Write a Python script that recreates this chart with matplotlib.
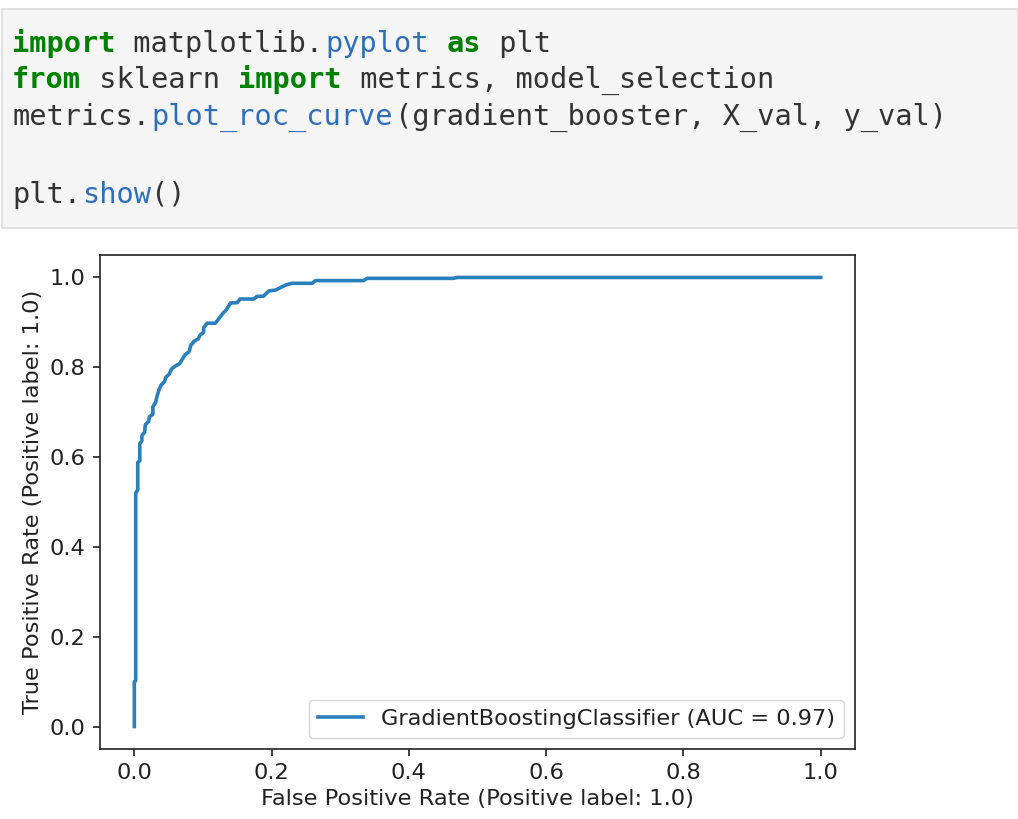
import matplotlib
matplotlib.use("Agg")
import matplotlib.pyplot as plt
from matplotlib.patches import Rectangle

# ---- data ----
fpr = [0.000, 0.000, 0.002, 0.002, 0.005, 0.005, 0.008, 0.008, 0.011, 0.011,
       0.015, 0.016, 0.021, 0.022, 0.027, 0.027, 0.031, 0.033, 0.036, 0.039,
       0.044, 0.046, 0.051, 0.054, 0.060, 0.066, 0.070, 0.074, 0.080, 0.082,
       0.087, 0.093, 0.096, 0.101, 0.101, 0.106, 0.118, 0.124, 0.129, 0.134,
       0.138, 0.140, 0.150, 0.154, 0.174, 0.179, 0.188, 0.196, 0.206, 0.215,
       0.222, 0.230, 0.259, 0.264, 0.334, 0.339, 0.465, 0.470, 1.000]
tpr = [0.000, 0.100, 0.102, 0.520, 0.527, 0.588, 0.592, 0.630, 0.636, 0.648,
       0.655, 0.672, 0.680, 0.690, 0.695, 0.712, 0.722, 0.735, 0.750, 0.760,
       0.768, 0.778, 0.785, 0.796, 0.803, 0.808, 0.818, 0.828, 0.835, 0.848,
       0.858, 0.863, 0.872, 0.878, 0.888, 0.898, 0.898, 0.910, 0.920, 0.928,
       0.938, 0.943, 0.944, 0.952, 0.952, 0.958, 0.958, 0.970, 0.972, 0.979,
       0.984, 0.987, 0.987, 0.993, 0.993, 0.998, 0.998, 1.000, 1.000]
model_name = "GradientBoostingClassifier"
auc_value = 0.97
ticks = [0.0, 0.2, 0.4, 0.6, 0.8, 1.0]

# code cell text, as (token, style) pieces per line
code_lines = [
    [("import", "kw"), (" matplotlib.", "n"), ("pyplot", "p"), (" ", "n"), ("as", "kw"), (" plt", "n")],
    [("from", "kw"), (" sklearn ", "n"), ("import", "kw"), (" metrics, model_selection", "n")],
    [("metrics.", "n"), ("plot_roc_curve", "p"), ("(gradient_booster, X_val, y_val)", "n")],
    [],
    [("plt.", "n"), ("show", "p"), ("()", "n")],
]

W, H = 1018, 819
fig = plt.figure(figsize=(W / 100, H / 100), dpi=100)
fig.patch.set_facecolor("white")

# ---- code cell ----
fig.patches.append(Rectangle((2 / W, 1 - 228 / H), 1016 / W, 219 / H,
                             transform=fig.transFigure, facecolor="#f5f5f5",
                             edgecolor="#dcdcdc", linewidth=1.2, zorder=0))
styles = {
    "kw": dict(color="#008000", fontweight="bold"),
    "n": dict(color="#333333"),
    "p": dict(color="#2f6fba"),
}
char_w = 17.4
line_y = [44, 80, 117, 153, 195]
for ln, y in zip(code_lines, line_y):
    col = 0
    for tok, st in ln:
        fig.text((12 + col * char_w) / W, 1 - y / H, tok, family="DejaVu Sans Mono",
                 fontsize=20.6, va="center", ha="left", **styles[st])
        col += len(tok)

# ---- ROC axes ----
FS = 16.2
ax = fig.add_axes([100 / W, 1 - 749 / H, 755 / W, 494 / H])
ax.plot(fpr, tpr, color="#2a7fbd", linewidth=2.6,
        label=f"{model_name} (AUC = {auc_value:.2f})")
ax.set_xlim(-0.05, 1.05)
ax.set_ylim(-0.05, 1.05)
ax.set_xticks(ticks)
ax.set_yticks(ticks)
ax.tick_params(labelsize=FS, length=5.3, width=1.2, pad=5, colors="#222222")
for s in ax.spines.values():
    s.set_linewidth(1.2)
    s.set_color("#222222")
ax.set_xlabel("False Positive Rate (Positive label: 1.0)", fontsize=FS, color="#222222", labelpad=4)
ax.set_ylabel("True Positive Rate (Positive label: 1.0)", fontsize=FS, color="#222222", labelpad=5)
leg = ax.legend(loc="lower right", fontsize=FS, handlelength=2.0, borderpad=0.4)
for t in leg.get_texts():
    t.set_color("#222222")

fig.savefig("out.png", dpi=100, facecolor="white")
